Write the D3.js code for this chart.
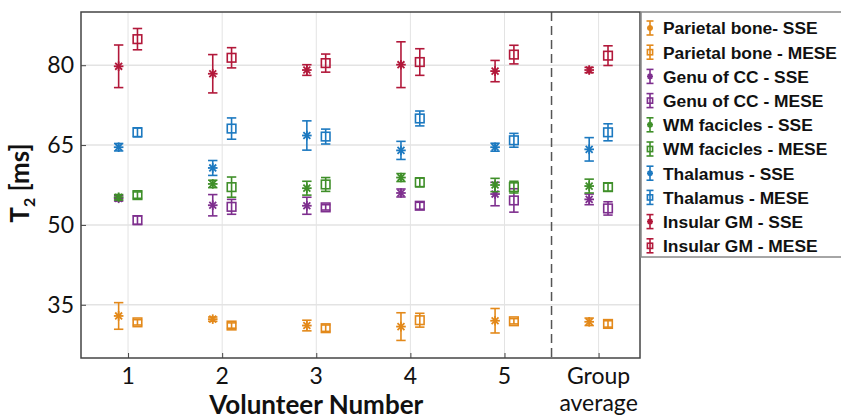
<!DOCTYPE html>
<html><head><meta charset="utf-8">
<script src="https://cdn.jsdelivr.net/npm/d3@7"></script>
<style>body{margin:0;background:#fff}svg{display:block}</style>
</head><body><svg id="c" width="841" height="420"></svg>
<script>
const xTickLabels = ["1","2","3","4","5","Group average"];
const xPositions = [1,2,3,4,5,6];
const yTicks = [35,50,65,80];
const seriesNames = ["Parietal bone- SSE","Parietal bone - MESE","Genu of CC - SSE","Genu of CC - MESE","WM facicles - SSE","WM facicles - MESE","Thalamus - SSE","Thalamus - MESE","Insular GM - SSE","Insular GM - MESE"];
const seriesColors = ["#E3891A","#E3891A","#7E2F8E","#7E2F8E","#3F8F29","#3F8F29","#1C79C0","#1C79C0","#B2183A","#B2183A"];
const seriesMarkers = ["star","square","star","square","star","square","star","square","star","square"];
// means per x position (1..5, group)
const parietalSSE  = [32.9,32.3,31.1,30.9,32.0,31.8];
const parietalSSEe = [2.5,0.4,1.0,2.6,2.3,0.7];
const parietalMESE = [31.7,31.1,30.6,32.1,31.9,31.4];
const parietalMESEe= [0.5,0.5,0.6,1.3,0.5,0.6];
const genuSSE      = [55.0,53.7,53.6,56.0,55.8,54.8];
const genuSSEe     = [0.5,2.0,1.6,0.75,2.2,1.0];
const genuMESE     = [50.9,53.4,53.3,53.6,54.6,53.1];
const genuMESEe    = [0.8,1.4,0.5,0.65,2.2,1.25];
const wmSSE        = [55.2,57.7,56.9,58.9,57.5,57.3];
const wmSSEe       = [0.5,0.7,1.3,0.75,1.25,1.3];
const wmMESE       = [55.6,57.1,57.6,58.0,57.1,57.1];
const wmMESEe      = [0.6,1.9,1.3,0.85,1.1,0.75];
const thalSSE      = [64.6,60.7,66.8,64.0,64.6,64.2];
const thalSSEe     = [0.7,1.4,2.75,1.7,0.75,2.2];
const thalMESE     = [67.4,68.1,66.6,70.0,65.9,67.4];
const thalMESEe    = [0.85,2.0,1.4,1.4,1.3,1.6];
const insSSE       = [79.8,78.4,79.1,80.1,78.9,79.1];
const insSSEe      = [4.0,3.6,1.0,4.3,2.0,0.5];
const insMESE      = [84.9,81.4,80.4,80.6,82.0,81.8];
const insMESEe     = [2.0,1.9,1.7,2.5,1.75,1.85];
const seriesMeans = [parietalSSE,parietalMESE,genuSSE,genuMESE,wmSSE,wmMESE,thalSSE,thalMESE,insSSE,insMESE];
const seriesErrs  = [parietalSSEe,parietalMESEe,genuSSEe,genuMESEe,wmSSEe,wmMESEe,thalSSEe,thalMESEe,insSSEe,insMESEe];
const offsets = [-0.1,0.1];

const svg = d3.select("#c");
const L=81, R=640, T=12, B=358;
const x = d3.scaleLinear().domain([0.5,6.44]).range([L,R]);
const y = d3.scaleLinear().domain([25,90]).range([B,T]);

// grid
const g = svg.append("g");
g.selectAll(".gx").data(xPositions).enter().append("line")
 .attr("x1",d=>x(d)).attr("x2",d=>x(d)).attr("y1",T).attr("y2",B)
 .attr("stroke","#e3e3e3").attr("stroke-width",1);
g.selectAll(".gy").data(yTicks).enter().append("line")
 .attr("x1",L).attr("x2",R).attr("y1",d=>y(d)).attr("y2",d=>y(d))
 .attr("stroke","#e3e3e3").attr("stroke-width",1.5);

// dashed separator
svg.append("line").attr("x1",x(5.5)).attr("x2",x(5.5)).attr("y1",T).attr("y2",B)
 .attr("stroke","#555").attr("stroke-width",1.5).attr("stroke-dasharray","9,5");

// axes
const xAxis = d3.axisBottom(x).tickValues(xPositions).tickSize(-5).tickFormat("");
const yAxis = d3.axisLeft(y).tickValues(yTicks).tickSize(-5).tickFormat("");
svg.append("g").attr("transform",`translate(0,${B})`).call(xAxis)
 .call(a=>{a.select(".domain").remove();a.selectAll("line").attr("stroke","#444");});
svg.append("g").attr("transform",`translate(${L},0)`).call(yAxis)
 .call(a=>{a.select(".domain").remove();a.selectAll("line").attr("stroke","#444");});
svg.append("rect").attr("x",L).attr("y",T).attr("width",R-L).attr("height",B-T)
 .attr("fill","none").attr("stroke","#444").attr("stroke-width",1.5);

// tick labels
const tf = "Lato, 'Open Sans', sans-serif";
svg.selectAll(".yl").data(yTicks).enter().append("text")
 .attr("x",74).attr("y",d=>y(d)+8).attr("text-anchor","end")
 .attr("font-family",tf).attr("font-size",23).attr("fill","#111").text(d=>d);
xTickLabels.forEach((t,i)=>{
  const words = t.split(" ");
  words.forEach((w,j)=>{
    svg.append("text").attr("x",x(xPositions[i])).attr("y",384+j*27)
     .attr("text-anchor","middle").attr("font-family",tf).attr("font-size",23)
     .attr("fill","#111").text(w);
  });
});
svg.append("text").attr("x",x(3)).attr("y",414).attr("text-anchor","middle")
 .attr("font-family",tf).attr("font-weight","bold").attr("font-size",26).attr("fill","#111")
 .text("Volunteer Number");
const yl = svg.append("text").attr("transform",`translate(29,${(T+B)/2-2}) rotate(-90)`)
 .attr("text-anchor","middle").attr("font-family",tf).attr("font-weight","bold")
 .attr("font-size",26).attr("fill","#111");
yl.append("tspan").text("T");
yl.append("tspan").attr("font-size",16).attr("dy",6).text("2");
yl.append("tspan").attr("dy",-6).text(" [ms]");

// markers
function drawMarker(sel, type, cx, cy, color, s){
  if(type==="star"){
    const r=s;
    [[-r,0,r,0],[0,-r,0,r],[-r*0.72,-r*0.72,r*0.72,r*0.72],[-r*0.72,r*0.72,r*0.72,-r*0.72]].forEach(p=>{
      sel.append("line").attr("x1",cx+p[0]).attr("y1",cy+p[1]).attr("x2",cx+p[2]).attr("y2",cy+p[3])
       .attr("stroke",color).attr("stroke-width",1.8);
    });
  } else {
    sel.append("rect").attr("x",cx-s).attr("y",cy-s).attr("width",2*s).attr("height",2*s)
     .attr("fill","none").attr("stroke",color).attr("stroke-width",1.6);
  }
}
function errBar(sel, cx, y1, y2, color, cap){
  sel.append("line").attr("x1",cx).attr("x2",cx).attr("y1",y1).attr("y2",y2).attr("stroke",color).attr("stroke-width",1.6);
  [y1,y2].forEach(yy=>sel.append("line").attr("x1",cx-cap).attr("x2",cx+cap).attr("y1",yy).attr("y2",yy).attr("stroke",color).attr("stroke-width",1.6));
}
const pts = svg.append("g");
seriesMeans.forEach((means,si)=>{
  const col = seriesColors[si], off = offsets[si%2];
  const sg = pts.append("g");
  means.forEach((m,i)=>{
    const e = seriesErrs[si][i];
    const cx = x(xPositions[i]+off);
    errBar(sg, cx, y(m+e), y(m-e), col, 4.7);
    drawMarker(sg, seriesMarkers[si], cx, y(m), col, seriesMarkers[si]==="star"?4.8:4.3);
  });
});

// legend
const lg = svg.append("g");
lg.append("rect").attr("x",641).attr("y",12).attr("width",210).attr("height",245)
 .attr("fill","#fff").attr("stroke","#888").attr("stroke-width",1.5);
seriesNames.forEach((n,i)=>{
  const cy = 28 + i*24.2, col = seriesColors[i];
  errBar(lg, 650, cy-7, cy+7, col, 3.5);
  drawMarker(lg, seriesMarkers[i], 650, cy, col, seriesMarkers[i]==="star"?3:2.6);
  lg.append("text").attr("x",663).attr("y",cy+6.3).attr("font-family","'Liberation Sans', Arial, sans-serif")
   .attr("font-weight","bold").attr("font-size",17.4).attr("fill","#111").text(n);
});
</script></body></html>
